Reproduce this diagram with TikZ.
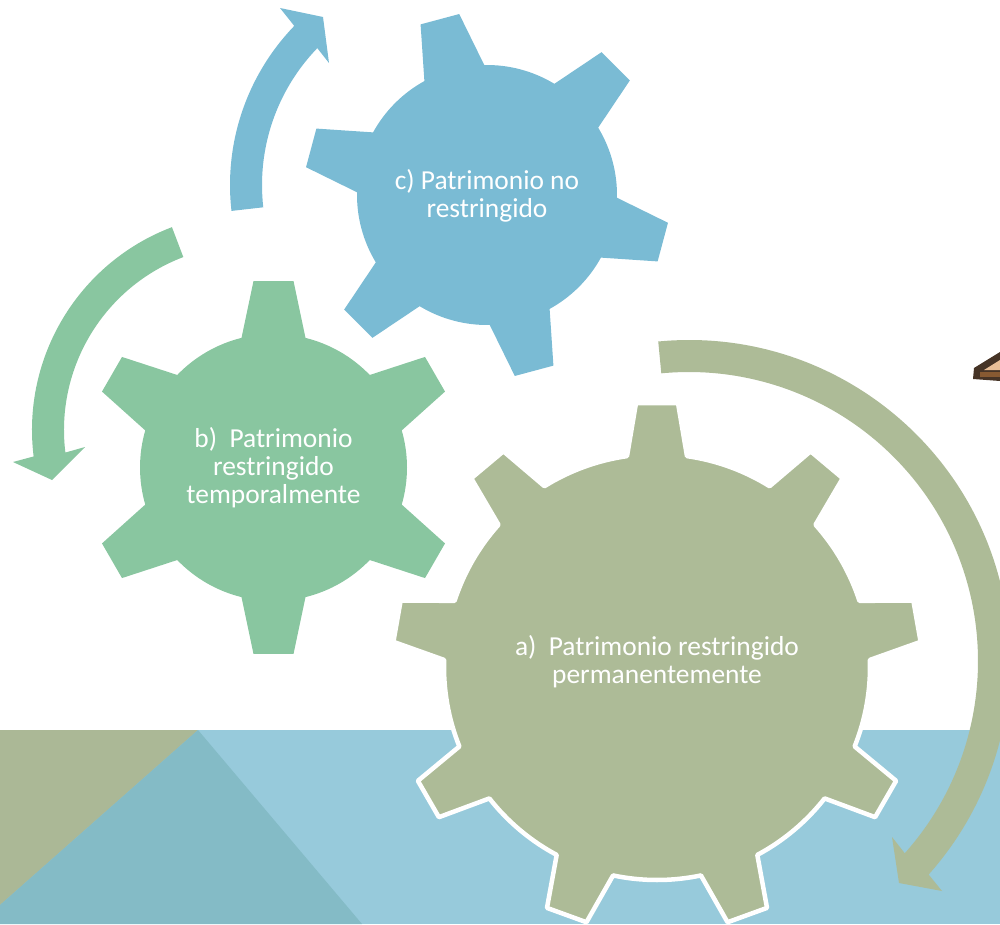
\documentclass[tikz,border=0pt]{standalone}
\usepackage{fontspec}
\setmainfont{Carlito}
\definecolor{seablue}{RGB}{151,202,219}
\definecolor{olivegear}{RGB}{173,187,151}
\definecolor{olivewedge}{RGB}{171,184,150}
\definecolor{greengear}{RGB}{137,198,160}
\definecolor{bluegear}{RGB}{122,187,212}
\definecolor{tealwedge}{RGB}{132,187,198}
\definecolor{woodlight}{RGB}{232,190,150}
\definecolor{wooddark}{RGB}{70,52,38}
\definecolor{woodmid}{RGB}{135,90,50}
\tikzset{
  geartext/.style={text=white,font=\fontsize{7.8pt}{8pt}\selectfont,align=center,inner sep=0pt},
}
% style,cx,cy,hub,tip,half tip,half base,first angle,step
\newcommand{\geardraw}[9]{%
  \pgfmathsetmacro{\gA}{asin(#7/#4)}%
  \pgfmathsetmacro{\gB}{atan(#6/#5)}%
  \pgfmathsetmacro{\gR}{veclen(#5,#6)}%
  \pgfmathsetmacro{\gS}{#8+#9}%
  \pgfmathsetmacro{\gE}{#8+360-#9}%
  \path[#1] ([shift={(#2,#3)}]#8-\gA:#4)
  \foreach \a in {#8,\gS,...,\gE}{
    -- ([shift={(#2,#3)}]\a-\gB:\gR) -- ([shift={(#2,#3)}]\a+\gB:\gR) -- ([shift={(#2,#3)}]\a+\gA:#4)
    arc[start angle=\a+\gA,end angle=\a+#9-\gA,radius=#4]
  } -- cycle;}
\begin{document}
\begin{tikzpicture}[x=0.01cm,y=-0.01cm,line join=round]
  \useasboundingbox (0,0) rectangle (1000,924);
  \clip (0,0) rectangle (1000,924);
  % background
  \fill[seablue] (0,730) rectangle (1000,924);
  \fill[olivewedge] (0,730) -- (198,730) -- (0,905) -- cycle;
  \fill[tealwedge] (198,730) -- (0,905) -- (0,924) -- (362,924) -- cycle;
  % cut off picture at the right edge
  \fill[wooddark] (1000,352) -- (974,368) -- (973,379) -- (1000,381) -- cycle;
  \fill[woodlight] (1000,360) -- (984,370) -- (1000,370) -- cycle;
  \fill[woodmid] (980,372) -- (1000,372) -- (1000,377) -- (980,377) -- cycle;
  % gears
  \geardraw{fill=bluegear}{487}{195}{130}{182}{20}{31}{-105}{60}
  \geardraw{fill=greengear}{273.5}{467.5}{133.5}{186.5}{20}{32}{-90}{60}
  \geardraw{fill=olivegear,draw=white,line width=0.45mm}{657}{667}{213}{264}{21}{30}{-90}{40}
  % arrows
  \fill[bluegear] ([shift={(459,185)}]173.5:229) arc[start angle=173.5,end angle=224,radius=229]
    -- (280,8) -- (323,17) -- (329,63) -- ([shift={(459,185)}]224:197)
    arc[start angle=224,end angle=173.5,radius=197] -- cycle;
  \fill[greengear] ([shift={(249,430)}]-110.8:217) arc[start angle=-110.8,end angle=-187,radius=217]
    -- (13,462) -- (52,480) -- (85,447) -- ([shift={(249,430)}]-187:185)
    arc[start angle=-187,end angle=-110.8,radius=185] -- cycle;
  \fill[olivegear] ([shift={(689,661)}]-95.5:321) arc[start angle=-95.5,end angle=41.7,radius=321]
    -- (942,891) -- (899,883) -- (892,837) -- ([shift={(689,661)}]41.7:289)
    arc[start angle=41.7,end angle=-95.5,radius=289] -- cycle;
  % labels
  \node[geartext] (patc) at (487,196) {c) Patrimonio no\\restringido};
  \node[geartext] (patb) at (273.5,468) {b)\ \ Patrimonio\\restringido\\temporalmente};
  \node[geartext] (pata) at (657,662) {a)\ \ Patrimonio restringido\\permanentemente};
\end{tikzpicture}
\end{document}
